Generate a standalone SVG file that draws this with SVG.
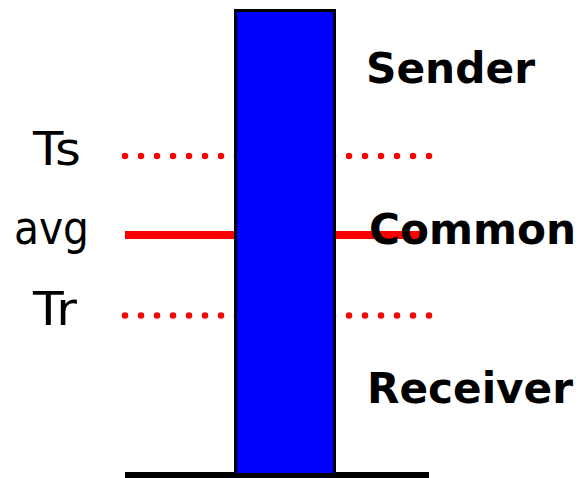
<svg xmlns="http://www.w3.org/2000/svg" width="584" height="478" viewBox="0 0 584 478">
<style>
.dot{stroke:#ff0000;stroke-width:6.5;stroke-linecap:round;stroke-dasharray:0 16;fill:none}
.solid{stroke:#ff0000;stroke-width:8;fill:none}
.lbl{font-family:"DejaVu Sans",Verdana,sans-serif;font-size:46px;fill:#000}
.bold{font-family:"DejaVu Sans",Verdana,sans-serif;font-weight:bold;font-size:42px;fill:#000}
</style>
<rect width="584" height="478" fill="#fff"/>
<g id="connectors">
<line class="dot" x1="125" y1="156" x2="432" y2="156"/>
<line class="solid" x1="125" y1="235" x2="422" y2="235"/>
<line class="dot" x1="125" y1="315.5" x2="432" y2="315.5"/>
<line x1="125" y1="475" x2="429" y2="475" stroke="#000" stroke-width="6"/>
</g>
<g id="bar">
<rect x="235.5" y="10.5" width="99" height="464" fill="#0000ff" stroke="#000" stroke-width="3"/>
</g>
<g id="labels-left">
<text class="lbl" x="33" y="165" textLength="48" lengthAdjust="spacingAndGlyphs">Ts</text>
<text class="lbl" x="14" y="244" textLength="75" lengthAdjust="spacingAndGlyphs">avg</text>
<text class="lbl" x="33" y="325" textLength="44" lengthAdjust="spacingAndGlyphs">Tr</text>
</g>
<g id="sender"><text class="bold" x="366" y="83" textLength="169" lengthAdjust="spacingAndGlyphs">Sender</text></g>
<g id="common"><text class="bold" x="369" y="244" textLength="207" lengthAdjust="spacingAndGlyphs">Common</text></g>
<g id="receiver"><text class="bold" x="367" y="403" textLength="206" lengthAdjust="spacingAndGlyphs">Receiver</text></g>
</svg>
